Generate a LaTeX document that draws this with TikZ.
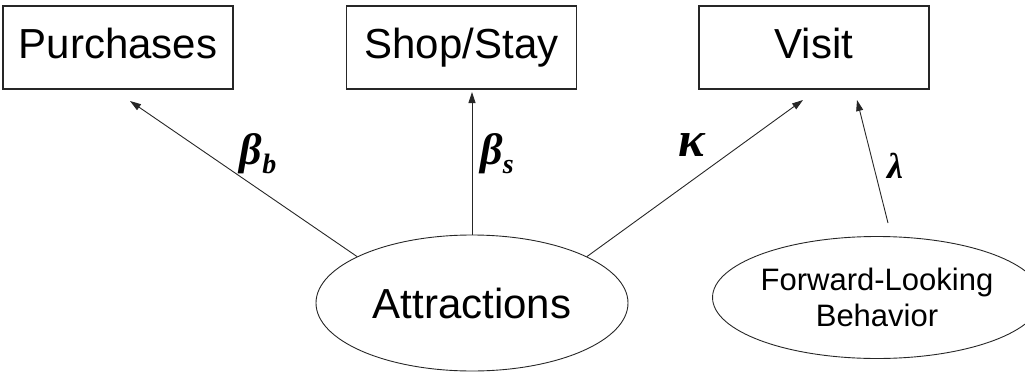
\documentclass[tikz,border=0pt]{standalone}
\usepackage{fontspec}
\setmainfont{Liberation Sans}
\newfontfamily\grk{Liberation Serif}
\usetikzlibrary{arrows.meta,shapes.geometric}
\tikzset{
  box/.style={draw=black!85, line width=1.1pt, minimum width=230pt, minimum height=83pt, inner sep=0pt, text height=30pt, text depth=9pt, font=\fontsize{42}{46}\selectfont},
  oval/.style={draw=black!85, line width=0.9pt, ellipse, inner sep=0pt},
  arr/.style={draw=black!85, line width=0.9pt, -{Triangle[length=11pt,width=7pt]}},
  glabel/.style={font=\grk\bfseries\itshape\fontsize{44}{44}\selectfont, inner sep=0pt}
}
\newcommand{\gsub}[1]{{\fontsize{28}{28}\selectfont\raisebox{-9pt}{#1}}}
\begin{document}
\begin{tikzpicture}[x=1pt,y=-1pt]
\useasboundingbox (0,0) rectangle (1025,372);
\node[box] (P) at (118,47.5) {Purchases};
\node[box] (S) at (461.5,47.5) {Shop/Stay};
\node[box] (V) at (814,47.5) {Visit};
\node[oval, minimum width=312pt, minimum height=136pt, font=\fontsize{42}{46}\selectfont] (A) at (472,303) {Attractions};
\node[oval, minimum width=291pt, minimum height=122pt, align=center, font=\fontsize{31}{36}\selectfont] (F) at (877,297.5) {Forward-Looking\\Behavior};
\coordinate (pb) at (130,101);
\coordinate (ps) at (472,92);
\coordinate (pk) at (803,100);
\coordinate (pl) at (857,100);
\coordinate (fl) at (888,223);
\draw[arr] (A.158) -- (pb);
\draw[arr] (A.north -| ps) -- (ps);
\draw[arr] (A.22) -- (pk);
\draw[arr] (fl) -- (pl);
\node[glabel] (lb) at (258,154) {β\gsub{b}};
\node[glabel] (ls) at (497,154) {β\gsub{s}};
\node[glabel, font=\grk\bfseries\itshape\fontsize{50}{50}\selectfont] (lk) at (692,145) {κ};
\node[glabel, font=\grk\bfseries\itshape\fontsize{36}{36}\selectfont] (ll) at (895,166) {λ};
\end{tikzpicture}
\end{document}
